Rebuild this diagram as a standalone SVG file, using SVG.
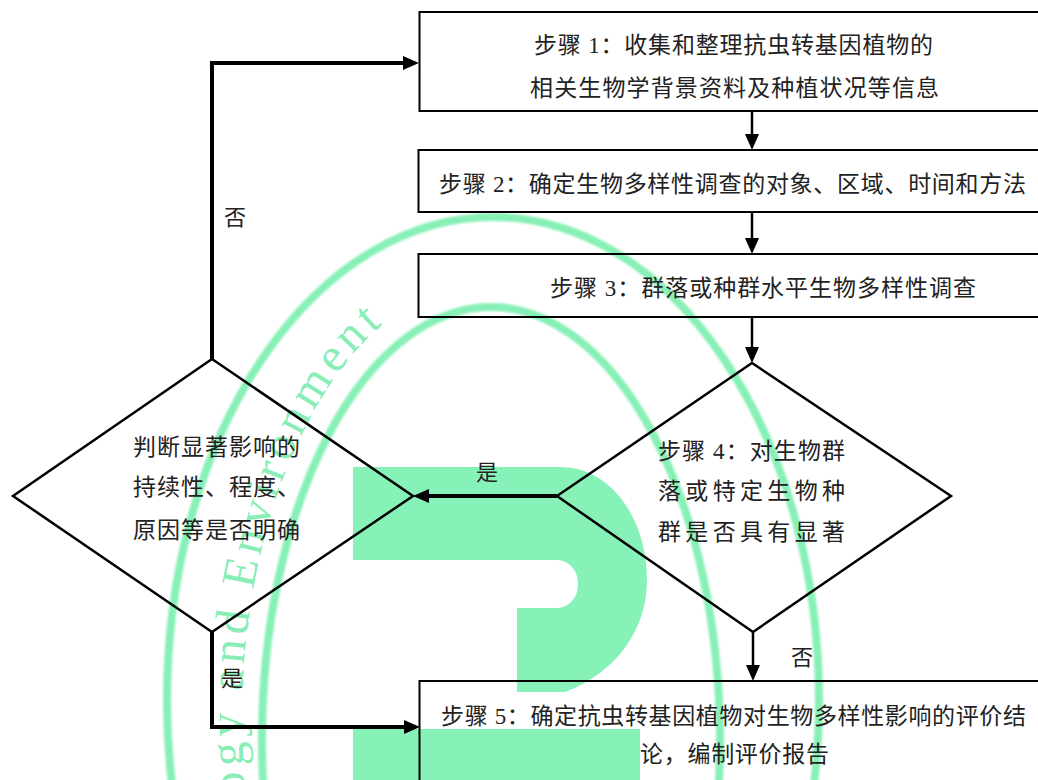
<svg xmlns="http://www.w3.org/2000/svg" width="1038" height="780" viewBox="0 0 1038 780">
  <style>
    .box { fill: none; stroke: #000; stroke-width: 2; }
    .dia { fill: none; stroke: #000; stroke-width: 2.5; stroke-linejoin: miter; }
    .thin { fill: none; stroke: #000; stroke-width: 2.5; }
    .thick { fill: none; stroke: #000; stroke-width: 4; }
    .txt { font-family: "Liberation Serif", "Noto Sans CJK SC", serif; font-size: 23px; fill: #222; }
    .lbl { font-family: "Liberation Serif", "Noto Sans CJK SC", serif; font-size: 22px; fill: #222; text-anchor: middle; }
    .wm { fill: #87f2b7; }
    .arc { fill: none; stroke: #87f0b6; stroke-width: 8; }
    .wmtxt { font-family: "Liberation Serif", serif; font-size: 48px; fill: #88eeb5; letter-spacing: 5px; }
  </style>
  <defs>
    <marker id="arrow" viewBox="0 0 16 14" refX="6" refY="7" markerWidth="16" markerHeight="14" markerUnits="userSpaceOnUse" orient="auto">
      <path d="M0,0 L16,7 L0,14 Z" fill="#000"/>
    </marker>
    <filter id="soft" x="-10%" y="-10%" width="120%" height="120%">
      <feGaussianBlur stdDeviation="1.2"/>
    </filter>
    <path id="wmPath" d="M245.6,794.4 A250,440 0 0 1 492,280"/>
  </defs>

  <rect x="0" y="0" width="1038" height="780" fill="#fff"/>

  <g id="watermark">
    <path class="wm" d="M353,467 H560 C612,467 647,520 647,580 C647,628 618,672 565,692 H517 V608 H556 C569,608 578,598 578,584 C578,570 569,560 556,560 H353 Z"/>
    <rect class="wm" x="353" y="729" width="287" height="60"/>
    <g filter="url(#soft)">
      <ellipse class="arc" cx="493" cy="700" rx="326" ry="483"/>
      <ellipse class="arc" cx="491" cy="740" rx="229" ry="433"/>
    </g>
    <text class="wmtxt"><textPath href="#wmPath">ogy and Environment</textPath></text>
  </g>

  <g id="connectors">
    <line class="thin" x1="752" y1="111" x2="752" y2="140" marker-end="url(#arrow)"/>
    <line class="thin" x1="752" y1="212" x2="752" y2="244" marker-end="url(#arrow)"/>
    <line class="thin" x1="752" y1="317" x2="752" y2="353" marker-end="url(#arrow)"/>
    <line class="thin" x1="753" y1="632" x2="753" y2="671" marker-end="url(#arrow)"/>
    <path class="thick" d="M557,496 H423" marker-end="url(#arrow)"/>
    <path class="thick" d="M212,359 V63 H409" marker-end="url(#arrow)"/>
    <path class="thick" d="M212,632 V727 H410" marker-end="url(#arrow)"/>
    <text class="lbl" x="235" y="225">否</text>
    <text class="lbl" x="487" y="480">是</text>
    <text class="lbl" x="232" y="686">是</text>
    <text class="lbl" x="802" y="665">否</text>
  </g>

  <g id="node-step1">
    <rect class="box" x="419.5" y="12" width="630" height="99"/>
    <text class="txt" x="534" y="53" textLength="399" lengthAdjust="spacing">步骤 1：收集和整理抗虫转基因植物的</text>
    <text class="txt" x="530" y="96" textLength="409" lengthAdjust="spacing">相关生物学背景资料及种植状况等信息</text>
  </g>

  <g id="node-step2">
    <rect class="box" x="418.5" y="150" width="630" height="62"/>
    <text class="txt" x="439" y="192" textLength="587" lengthAdjust="spacing">步骤 2：确定生物多样性调查的对象、区域、时间和方法</text>
  </g>

  <g id="node-step3">
    <rect class="box" x="418.5" y="254" width="630" height="63"/>
    <text class="txt" x="550" y="296" textLength="426" lengthAdjust="spacing">步骤 3：群落或种群水平生物多样性调查</text>
  </g>

  <g id="node-step4">
    <polygon class="dia" points="752,363 951,496 753,632 557,496"/>
    <text class="txt" x="658" y="459" textLength="187" lengthAdjust="spacing">步骤 4：对生物群</text>
    <text class="txt" x="658" y="499" textLength="187" lengthAdjust="spacing">落或特定生物种</text>
    <text class="txt" x="658" y="540" textLength="187" lengthAdjust="spacing">群是否具有显著</text>
  </g>

  <g id="node-judge">
    <polygon class="dia" points="212,359 413,496 212,632 13,496"/>
    <text class="txt" x="133" y="455" textLength="167" lengthAdjust="spacing">判断显著影响的</text>
    <text class="txt" x="133" y="495" textLength="167" lengthAdjust="spacing">持续性、程度、</text>
    <text class="txt" x="133" y="538" textLength="167" lengthAdjust="spacing">原因等是否明确</text>
  </g>

  <g id="node-step5">
    <rect class="box" x="419.5" y="681" width="630" height="120"/>
    <text class="txt" x="441" y="724" textLength="585" lengthAdjust="spacing">步骤 5：确定抗虫转基因植物对生物多样性影响的评价结</text>
    <text class="txt" x="640" y="762" textLength="189" lengthAdjust="spacing">论，编制评价报告</text>
  </g>
</svg>
